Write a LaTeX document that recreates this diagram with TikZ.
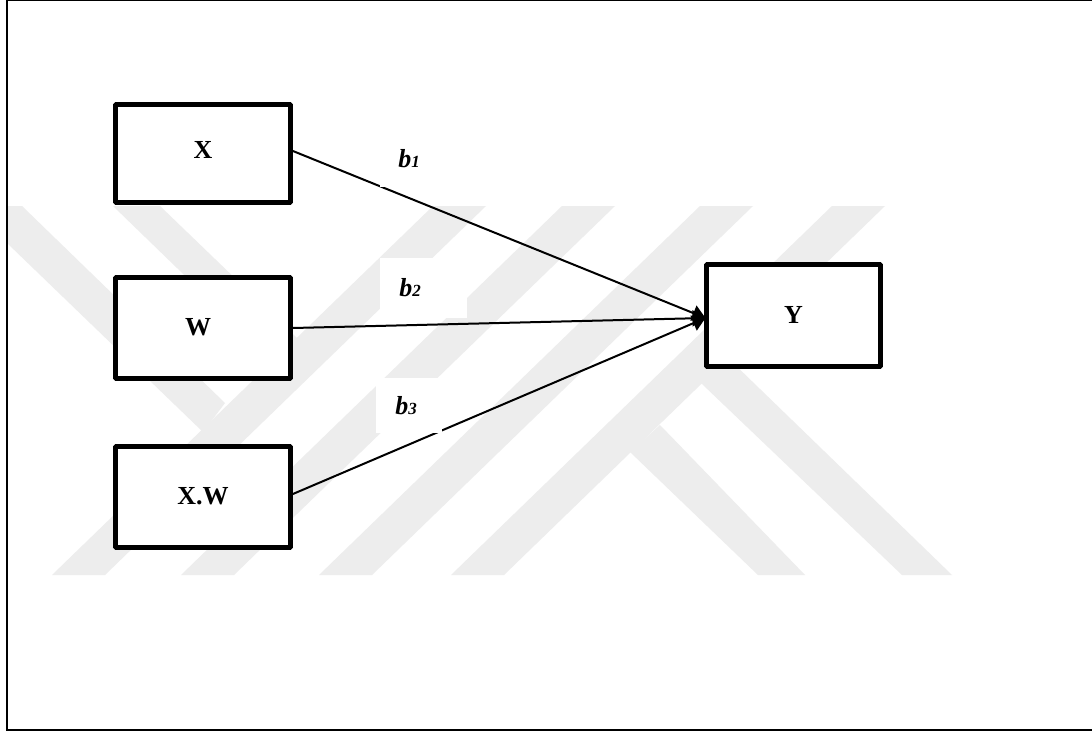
\documentclass[tikz,border=0pt]{standalone}
\usepackage{fontspec}
\setmainfont{Liberation Serif}
\usetikzlibrary{arrows.meta}
\definecolor{wmgray}{HTML}{EDEDED}

\begin{document}
\begin{tikzpicture}[
  x=1pt, y=-1pt,
  varbox/.style={draw, line width=4.8pt, rounded corners=0.8pt, fill=white, inner sep=0pt,
    text height=17pt, text depth=0pt, font=\fontsize{26}{26}\selectfont\bfseries},
  coeflabel/.style={fill=white, inner sep=0pt, font=\fontsize{26}{26}\selectfont\bfseries\itshape},
  path/.style={draw, line width=2pt, -{Triangle[length=13pt,width=16pt]}},
  wm/.style={fill=wmgray, draw=none}
 ]
  \useasboundingbox (0,0) rectangle (1092,731);
  \fill[white] (0,0) rectangle (1092,731);

  % watermark
  \foreach \t in {433,562,700,832} {
   \fill[wm] (\t,206) -- (\t+53,206) -- (\t+53-381,575) -- (\t-381,575) -- cycle;
  }
  \fill[wm] (7,206) -- (22,206) -- (225,403) -- (203,432) -- (7,243) -- cycle;
  \fill[wm] (113,206) -- (160,206) -- (297,338) -- (273,361) -- cycle;
  \fill[wm] (728,358) -- (952,575) -- (902,575) -- (680,363) -- cycle;
  \fill[wm] (660,425) -- (805,575) -- (758,575) -- (630,452) -- cycle;

  % frame, open on the right
  \draw[line width=2pt] (1092,0) -- (7,0) -- (7,730) -- (1092,730);

  \coordinate (tipY) at (705.5,318);
  \node[varbox, minimum width=175pt, minimum height=98pt] (x) at (203,153.5) {\raisebox{4pt}{X}};
  \node[varbox, minimum width=175pt, minimum height=101pt] (w) at (203,328) {\raisebox{1pt}{\kern-10pt W}};
  \node[varbox, minimum width=175pt, minimum height=101pt] (xw) at (203,497) {\raisebox{1pt}{X.W}};
  \node[varbox, minimum width=174pt, minimum height=102pt] (y) at (793.5,315.5) {\raisebox{1pt}{Y}};

  \draw[path] ([yshift=2.5pt]x.east) -- (tipY);
  \draw[path] (w.east) -- (tipY);
  \draw[path] ([yshift=3pt]xw.east) -- (tipY);

  % white patches round the labels
  \node[coeflabel, minimum width=65pt, minimum height=57pt] (b1) at (412.5,158.5) {\kern-7pt\textit{b}{\fontsize{17}{17}\selectfont 1}};
  \node[coeflabel, minimum width=87pt, minimum height=60pt] (b2) at (423.5,288) {\kern-27pt\textit{b}{\fontsize{17}{17}\selectfont 2}};
  \node[coeflabel, minimum width=66pt, minimum height=55pt] (b3) at (409,405.5) {\kern-6pt\textit{b}{\fontsize{17}{17}\selectfont 3}};
 \end{tikzpicture}
\end{document}
